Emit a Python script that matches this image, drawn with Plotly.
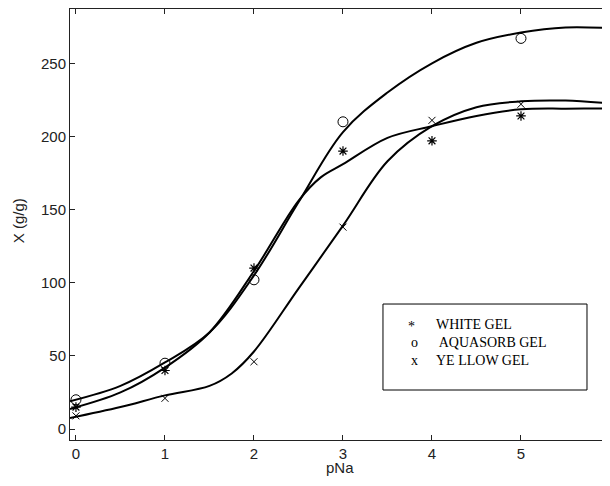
import plotly.graph_objects as go

# ---- data ----
series_names = ["WHITE GEL", " AQUASORB GEL", "YE LLOW GEL"]
legend_symbols = ["*", "o", "x"]

white_x = [0, 1, 2, 3, 4, 5, 6]
white_y = [15, 40, 110, 190, 197, 214, 214]

aqua_x = [0, 1, 2, 3, 5, 6]
aqua_y = [20, 45, 102, 210, 267, 248]

yellow_x = [0, 1, 2, 3, 4, 5]
yellow_y = [9, 21, 46, 138, 211, 222]

white_fit_x = [-0.067, 0.5, 1, 1.5, 2, 2.5, 2.75, 3, 3.5, 4, 4.5, 5, 5.5, 6]
white_fit_y = [13.7, 25, 42, 66, 108, 156, 172, 181, 199, 207, 214, 218.5, 219, 219]

aqua_fit_x = [-0.067, 0.5, 1, 1.5, 2, 2.5, 3, 3.5, 4, 4.5, 5, 5.5, 6]
aqua_fit_y = [19, 29.5, 45.5, 66, 105, 155, 203, 230, 250, 264, 271, 274.5, 274]

yellow_fit_x = [-0.067, 0.5, 1, 1.5, 1.75, 2, 2.5, 3, 3.5, 4, 4.5, 5, 5.5, 6]
yellow_fit_y = [7.5, 15, 23, 29.5, 38, 53, 96, 139, 183, 207, 220, 224, 224.5, 222.5]

x_ticks = [0, 1, 2, 3, 4, 5, 6]
y_ticks = [0, 50, 100, 150, 200, 250]
x_title = "pNa"
y_title = "X (g/g)"

fig = go.Figure()

for fx, fy in [(white_fit_x, white_fit_y), (aqua_fit_x, aqua_fit_y), (yellow_fit_x, yellow_fit_y)]:
    fig.add_trace(go.Scatter(x=fx, y=fy, mode="lines",
                             line=dict(color="black", width=2, shape="spline", smoothing=1.0),
                             showlegend=False, hoverinfo="skip"))

fig.add_trace(go.Scatter(x=white_x, y=white_y, mode="markers", name=series_names[0],
                         marker=dict(symbol="asterisk-open", size=8, color="black",
                                     line=dict(color="black", width=1.2)),
                         cliponaxis=False, showlegend=False))
fig.add_trace(go.Scatter(x=aqua_x, y=aqua_y, mode="markers", name=series_names[1],
                         marker=dict(symbol="circle-open", size=10, color="black",
                                     line=dict(color="black", width=1)),
                         cliponaxis=False, showlegend=False))
fig.add_trace(go.Scatter(x=yellow_x, y=yellow_y, mode="markers", name=series_names[2],
                         marker=dict(symbol="x-thin-open", size=7, color="black",
                                     line=dict(color="#333", width=1)),
                         cliponaxis=False, showlegend=False))

# legend box (MATLAB-like text legend)
fig.add_shape(type="rect", xref="paper", yref="paper",
              x0=0.5796, x1=0.9574, y0=0.116, y1=0.3155,
              line=dict(color="black", width=1), fillcolor="white", layer="above")
row_y = [0.2686, 0.2259, 0.1833]
sym_x = [0.6315, 0.638, 0.638]
for i in range(3):
    fig.add_annotation(xref="paper", yref="paper", x=sym_x[i], y=row_y[i] - (0.006 if i == 0 else 0),
                       text=legend_symbols[i], showarrow=False, xanchor="center", yanchor="middle",
                       font=dict(family="Liberation Serif", size=14, color="black"))
    fig.add_annotation(xref="paper", yref="paper", x=0.674, y=row_y[i],
                       text=series_names[i], showarrow=False, xanchor="left", yanchor="middle",
                       font=dict(family="Liberation Serif", size=14, color="black"))

axis_font = dict(family="Liberation Sans", size=15, color="#222")

# axis titles
fig.add_annotation(xref="paper", yref="paper", x=(340 - 70) / 540, y=-0.064, text=x_title,
                   showarrow=False, xanchor="center", yanchor="middle", font=axis_font)
fig.add_annotation(xref="paper", yref="paper", x=-0.0963, y=0.51, text=y_title, textangle=-90,
                   showarrow=False, xanchor="center", yanchor="middle", font=axis_font)

# the page has an 8px body margin; figure sized so the plot area lands where the reference has it
fig.update_layout(
    width=602, height=470,
    margin=dict(l=62, r=0, t=1, b=38, autoexpand=False),
    paper_bgcolor="white", plot_bgcolor="white",
    showlegend=False,
    font=axis_font,
    xaxis=dict(range=[-0.067, 6.0], tickvals=x_ticks, ticks="inside", ticklen=5,
               tickcolor="#222", showline=True, linecolor="#222", linewidth=1,
               mirror="ticks", showgrid=False, zeroline=False, tickfont=axis_font,
               automargin=False),
    yaxis=dict(range=[-7.5, 287.1], tickvals=y_ticks, ticks="inside", ticklen=5,
               tickcolor="#222", showline=True, linecolor="#222", linewidth=1,
               mirror=False, showgrid=False, zeroline=False, tickfont=axis_font,
               automargin=False),
)

fig.write_html("out.html")
